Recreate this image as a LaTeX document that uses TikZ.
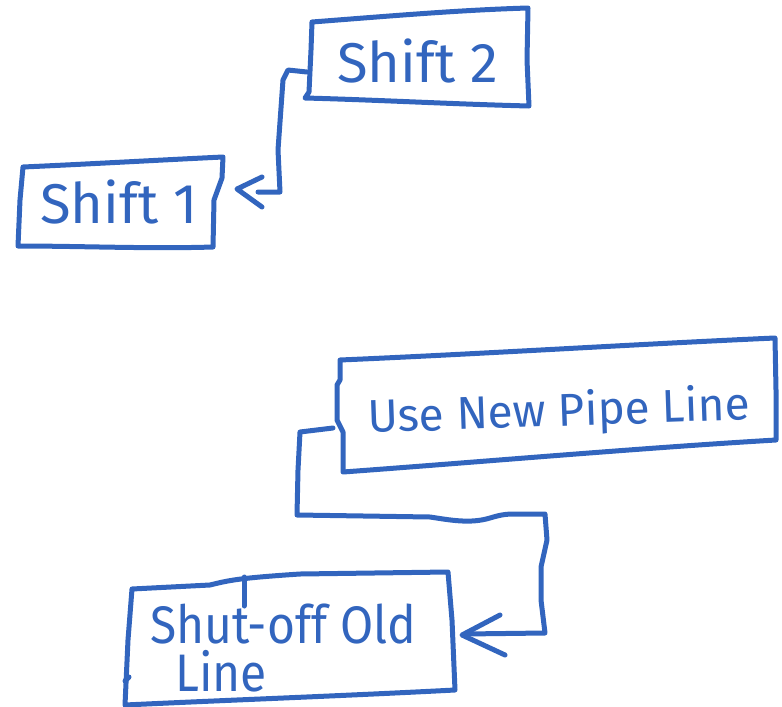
\documentclass[tikz,border=0pt]{standalone}
\usepackage{fontspec}
\setmainfont{Fira Sans}
\definecolor{ink}{HTML}{3265BE}
\begin{document}
\begin{tikzpicture}[x=1pt,y=-1pt,
  pen/.style={draw=ink,line width=5pt,line cap=round,line join=round},
  label/.style={text=ink,inner sep=0pt,anchor=base west},
  big/.style={label,font=\fontsize{56}{60}\selectfont},
  mid/.style={label,font=\fontsize{46}{50}\selectfont},
  hand/.style={label,font=\fontsize{48}{52}\selectfont},
  link/.style={pen},
  barb/.style={pen}]
\useasboundingbox (0,0) rectangle (782,707);

% texts
\node[big] (s2) at (337,82) {Shift 2};
\node[big] (s1) at (40,223) {Shift 1};
\node[mid,rotate=2] (np) at (368,433) {Use New Pipe Line};
\node[hand] (so) at (150,643) {\scalebox{1}[1.1]{Shut-off Old}};
\node[hand] (sl) at (175,691) {\scalebox{1}[1.1]{Line}};

% box outlines, drawn freehand
\draw[pen] (312,22) .. controls (390,16) and (460,10) .. (528,8)
  -- (527,60) -- (529,106)
  .. controls (450,104) and (380,100) .. (305,98)
  -- (309,92) -- (311,50) -- cycle;
\draw[pen] (23,167) .. controls (90,164) and (160,160) .. (223,157)
  -- (222,178) -- (214,200) -- (213,247)
  .. controls (150,249) and (80,246) .. (18,246)
  -- (20,200) -- cycle;
\draw[pen] (340,360) .. controls (480,354) and (640,344) .. (775,338)
  -- (776,390) -- (776,440)
  .. controls (640,448) and (480,462) .. (343,472)
  -- (343,432) -- (337,420) -- (337,385) -- (340,380) -- cycle;
\draw[pen] (132,589) -- (210,585) .. controls (230,580) and (240,578) .. (300,574)
  -- (448,572) -- (452,620) -- (455,690)
  .. controls (340,696) and (230,700) .. (125,705)
  -- (128,640) -- cycle;
\draw[pen] (244,577) -- (244,606);
\draw[pen] (125,681) -- (129,677);

% connectors
\coordinate (a1) at (307,72);
\coordinate (t1) at (258,192);
\draw[link] (a1) -- (288,70) -- (283,80) -- (278,150) -- (280,192) -- (t1);
\draw[barb] (262,177) -- (237,189) -- (262,207);

\coordinate (a2) at (333,428);
\coordinate (t2) at (465,634);
\draw[link] (a2) -- (300,432) -- (298,470) -- (297,515)
  -- (430,517) .. controls (450,520) and (470,524) .. (490,518)
  .. controls (500,515) and (505,514) .. (515,514) -- (545,514)
  -- (547,540) -- (541,567) -- (541,600) -- (545,633) -- (t2);
\draw[barb] (500,615) -- (462,635) -- (505,655);
\end{tikzpicture}
\end{document}
